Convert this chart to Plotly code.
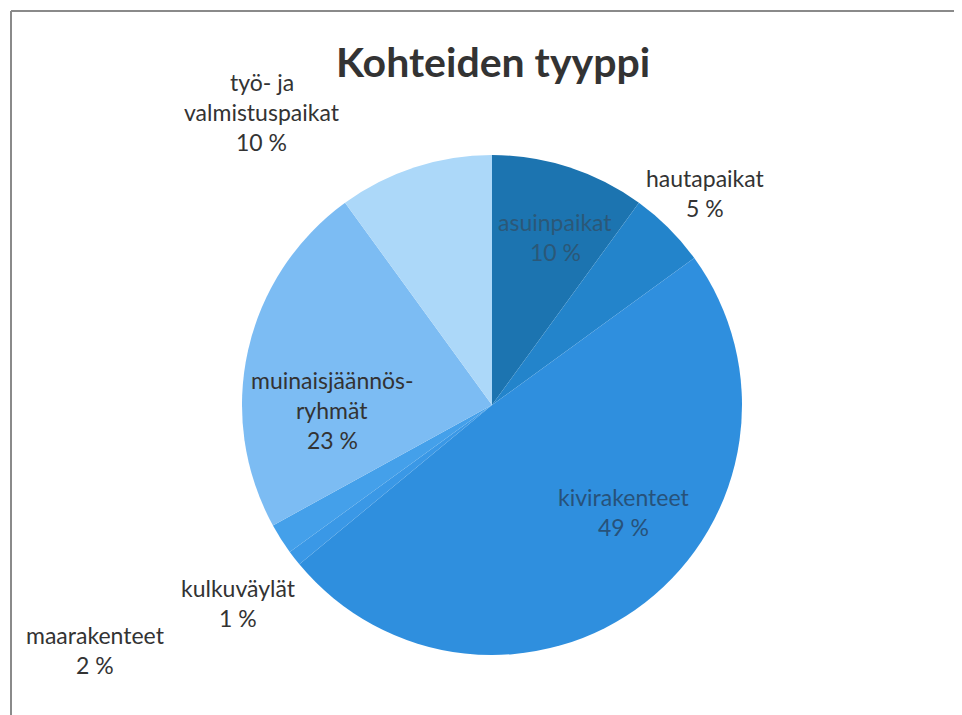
import plotly.graph_objects as go

# browser body margin offsets the figure by 8 px
OFF = 8
W, H = 962 - OFF, 715 - OFF

categories = ["asuinpaikat", "hautapaikat", "kivirakenteet", "kulkuväylät",
              "maarakenteet", "muinaisjäännös-\nryhmät", "työ- ja\nvalmistuspaikat"]
values = [10, 5, 49, 1, 2, 23, 10]
colors = ["#1c74b0", "#2384cb", "#2f8fde", "#3a98e6", "#44a0ea", "#7cbcf3", "#acd8f9"]

# label centre positions in reference pixels (x, y of first line) and text colour
label_pos = [(555, 222), (705, 178), (623, 497), (238, 588), (95, 635), (332, 380), (262, 82)]
label_col = ["#2b5878", "#333333", "#27527a", "#333333", "#333333", "#333333", "#333333"]
line_gap = 30


def px(x):
    return (x - OFF) / W


def py(y):
    return 1 - (y - OFF) / H


fig = go.Figure(go.Pie(
    labels=[c.replace("\n", " ") for c in categories],
    values=values,
    marker=dict(colors=colors, line=dict(width=0)),
    sort=False,
    direction="clockwise",
    rotation=0,
    textinfo="none",
    hoverinfo="label+percent",
    domain=dict(x=[px(242), px(742)], y=[py(655), py(155)]),
    showlegend=False,
))

annotations = []
for cat, v, (lx, ly), col in zip(categories, values, label_pos, label_col):
    lines = cat.split("\n") + [f"{v} %"]
    for i, ln in enumerate(lines):
        annotations.append(dict(
            text=ln, x=px(lx), y=py(ly + i * line_gap),
            xref="paper", yref="paper", xanchor="center", yanchor="middle",
            showarrow=False, font=dict(family="Lato, Open Sans, sans-serif", size=23, color=col),
        ))

annotations.append(dict(
    text="<b>Kohteiden tyyppi</b>", x=px(493), y=py(62), xref="paper", yref="paper",
    xanchor="center", yanchor="middle", showarrow=False,
    font=dict(family="Lato, Open Sans, sans-serif", size=41, color="#333333"),
))

shapes = [
    dict(type="line", xref="paper", yref="paper", x0=px(11), x1=1, y0=py(11), y1=py(11),
         line=dict(color="#8a8a8a", width=2)),
    dict(type="line", xref="paper", yref="paper", x0=px(11), x1=px(11), y0=py(11), y1=0,
         line=dict(color="#8a8a8a", width=2)),
]

fig.update_layout(
    width=W, height=H,
    margin=dict(l=0, r=0, t=0, b=0),
    paper_bgcolor="white", plot_bgcolor="white",
    annotations=annotations, shapes=shapes,
)

fig.write_html("out.html")
